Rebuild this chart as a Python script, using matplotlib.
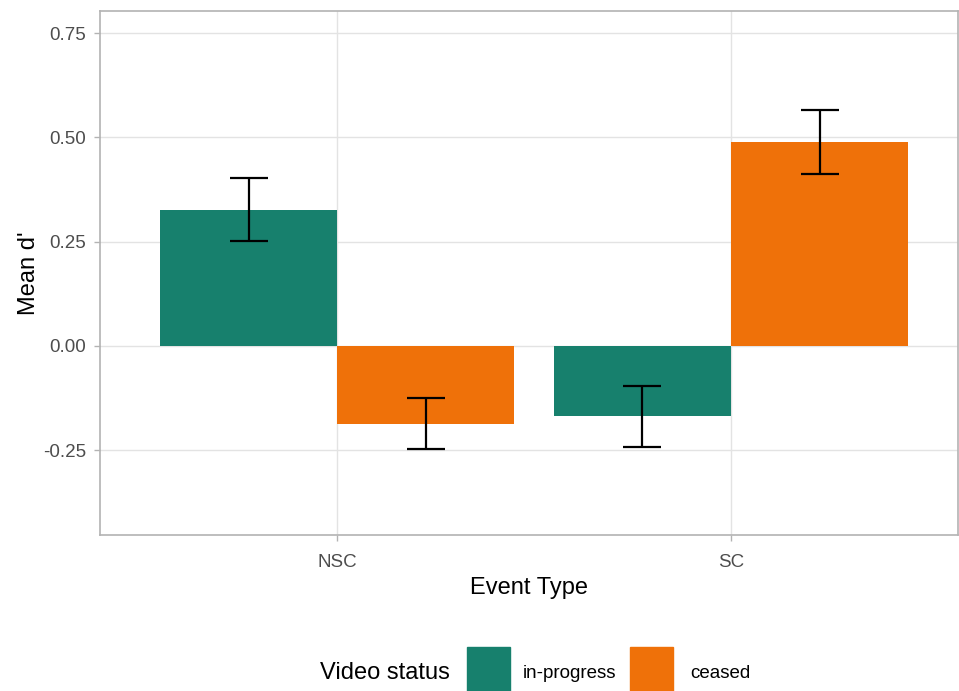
import numpy as np
import matplotlib
matplotlib.use("Agg")
import matplotlib.pyplot as plt
from matplotlib.patches import Rectangle

plt.rcParams['font.family'] = ['Liberation Sans', 'DejaVu Sans']

# Mean d' per event type and video status, with standard errors
event_types = ["NSC", "SC"]
statuses = ["in-progress", "ceased"]
mean_in_progress = [0.327, -0.169]
mean_ceased = [-0.186, 0.489]
se_in_progress = [0.076, 0.073]
se_ceased = [0.061, 0.077]

colors = {"in-progress": "#17806D", "ceased": "#EF7109"}

fig = plt.figure(figsize=(9.59, 6.91), dpi=100)
ax = fig.add_axes([0.1043, 0.2258, 0.8947, 0.7583])

x = np.arange(1, len(event_types) + 1)
bar_w = 0.45
means = {"in-progress": mean_in_progress, "ceased": mean_ceased}
ses = {"in-progress": se_in_progress, "ceased": se_ceased}
offsets = {"in-progress": -bar_w / 2, "ceased": bar_w / 2}

for s in statuses:
    ax.bar(x + offsets[s], means[s], width=bar_w, color=colors[s], zorder=2)
    ax.errorbar(x + offsets[s], means[s], yerr=ses[s], fmt="none", ecolor="black",
                elinewidth=1.6, capsize=14, capthick=1.6, zorder=3)

# light theme style panel
ax.set_xlim(0.398, 2.576)
ax.set_ylim(-0.453, 0.803)
ax.set_yticks([-0.25, 0.0, 0.25, 0.5, 0.75])
ax.set_yticklabels(["-0.25", "0.00", "0.25", "0.50", "0.75"])
ax.set_xticks(x)
ax.set_xticklabels(event_types)
ax.grid(which="major", color="#E3E3E3", linewidth=1.0, zorder=0)
ax.set_axisbelow(True)
for sp in ax.spines.values():
    sp.set_color("#B3B3B3")
    sp.set_linewidth(1.2)
ax.tick_params(which="major", color="#B3B3B3", length=4, width=1,
               labelsize=13.5, labelcolor="#4D4D4D")
ax.tick_params(axis="x", pad=10)
ax.tick_params(axis="y", pad=6)

ax.set_xlabel("Event Type", fontsize=17, color="black", labelpad=4)
ax.set_ylabel("Mean d'", fontsize=17, color="black", labelpad=2)

# legend at the bottom, laid out horizontally
fig.text(320 / 959, 1 - 673 / 691, "Video status", fontsize=17, va="center", ha="left")
key_w, key_h = 43 / 959, 44 / 691
key_y = 0.0
fig.add_artist(Rectangle((467 / 959, key_y), key_w, key_h, transform=fig.transFigure,
                         color=colors["in-progress"]))
fig.text(523 / 959, 1 - 673 / 691, "in-progress", fontsize=13.5, va="center", ha="left")
fig.add_artist(Rectangle((630 / 959, key_y), key_w, key_h, transform=fig.transFigure,
                         color=colors["ceased"]))
fig.text(690 / 959, 1 - 673 / 691, "ceased", fontsize=13.5, va="center", ha="left")

fig.savefig("out.png", dpi=100)
